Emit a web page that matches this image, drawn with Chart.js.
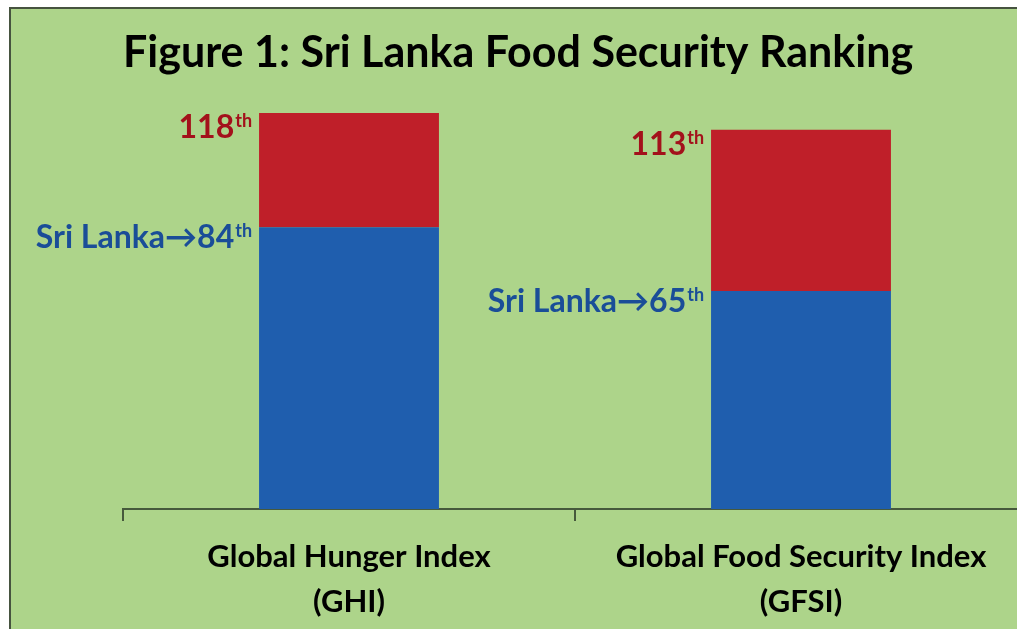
<!DOCTYPE html>
<html>
<head>
<meta charset="utf-8">
<title>Sri Lanka Food Security Ranking</title>
<script src="https://cdn.jsdelivr.net/npm/chart.js@4.4.1/dist/chart.umd.min.js"></script>
<style>
  html, body { margin: 0; padding: 0; background: #ffffff; overflow: hidden; }
  #frame {
    position: absolute; left: 9px; top: 7px;
    width: 1040px; height: 640px;
    border-left: 2px solid #46533f; border-top: 2px solid #46533f;
    background: #add48a;
  }
  #wrap { position: absolute; left: 0; top: 0; width: 1016px; height: 628px; }
</style>
</head>
<body>
<div id="frame">
  <div id="wrap"><canvas id="myChart"></canvas></div>
</div>
<script>
  const titleText = "Figure 1: Sri Lanka Food Security Ranking";
  const categories = [["Global Hunger Index", "(GHI)"], ["Global Food Security Index", "(GFSI)"]];
  const totalRanked = [118, 113];
  const sriLankaRank = [84, 65];

  const fontFamily = "Lato, 'Open Sans', sans-serif";
  const redBar = "#bf1f29";
  const blueBar = "#1f5eae";
  const redText = "#a3111b";
  const blueText = "#1a4d98";
  const axisColor = "#46593c";

  // the red part is what lies between Sri Lanka and the last ranked country
  const restOfRanking = totalRanked.map((t, i) => t - sriLankaRank[i]);

  const drawRank = (ctx, text, right, baseline, color) => {
    ctx.font = `bold 18px ${fontFamily}`;
    const supW = ctx.measureText("th").width;
    ctx.font = `bold 32px ${fontFamily}`;
    const mainW = ctx.measureText(text).width;
    ctx.fillStyle = color;
    ctx.textAlign = "left";
    ctx.textBaseline = "alphabetic";
    ctx.fillText(text, right - supW - mainW - 1, baseline);
    ctx.font = `bold 18px ${fontFamily}`;
    ctx.fillText("th", right - supW, baseline - 11);
  }

  const rankLabels = {
    id: "rankLabels",
    afterDatasetsDraw(chart) {
      const ctx = chart.ctx;
      const yScale = chart.scales.y;
      const meta = chart.getDatasetMeta(0);
      ctx.save();
      categories.forEach((c, i) => {
        const bar = meta.data[i];
        const right = bar.x - bar.width / 2 - 7;
        drawRank(ctx, String(totalRanked[i]), right, yScale.getPixelForValue(totalRanked[i]) + 25, redText);
        drawRank(ctx, "Sri Lanka\u2192" + sriLankaRank[i], right, yScale.getPixelForValue(sriLankaRank[i]) + 21, blueText);
      });
      ctx.restore();
    }
  };

  const data = {
    labels: categories,
    datasets: [
      { label: "Sri Lanka", data: sriLankaRank, backgroundColor: blueBar, borderWidth: 0 },
      { label: "Countries ranked", data: restOfRanking, backgroundColor: redBar, borderWidth: 0 }
    ]
  };

  const config = {
    type: "bar",
    data,
    plugins: [rankLabels],
    options: {
      responsive: true,
      maintainAspectRatio: false,
      animation: false,
      layout: { padding: { left: 112, right: 0, top: 0, bottom: 0 } },
      datasets: { bar: { categoryPercentage: 1, barPercentage: 0.398 } },
      plugins: {
        legend: { display: false },
        tooltip: { enabled: false },
        title: {
          display: true,
          text: titleText,
          align: "start",
          color: "#000000",
          font: { family: fontFamily, size: 43, weight: "bold", lineHeight: 1.2 },
          padding: { top: 18, bottom: 11 }
        }
      },
      scales: {
        x: {
          stacked: true,
          grid: { display: true, drawOnChartArea: false, drawTicks: true, tickLength: 12, color: axisColor, lineWidth: 2, offset: true },
          border: { display: true, color: axisColor, width: 2 },
          ticks: {
            color: "#000000",
            font: { family: fontFamily, size: 31, weight: "bold", lineHeight: 1.45 },
            padding: 13,
            maxRotation: 0,
            autoSkip: false
          }
        },
        y: { stacked: true, display: false, min: 0, max: 125 }
      }
    }
  };

  const myChart = document.getElementById("myChart");
  new Chart(myChart, config);
</script>
</body>
</html>
